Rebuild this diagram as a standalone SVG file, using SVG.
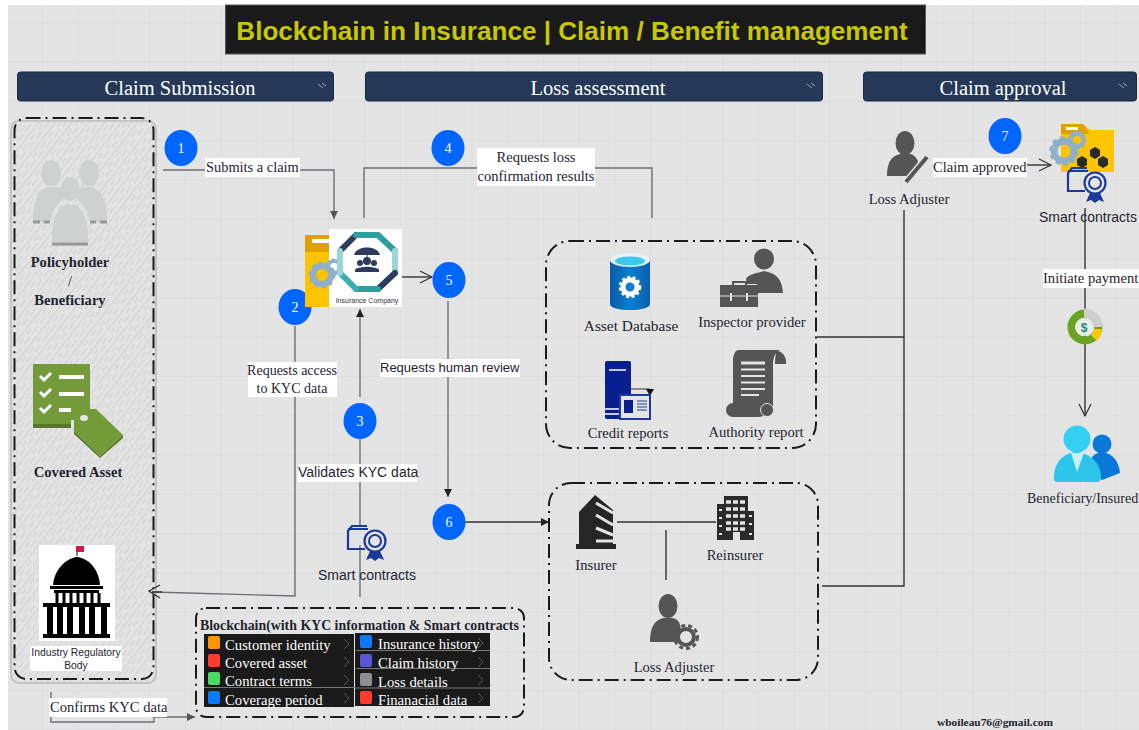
<svg xmlns="http://www.w3.org/2000/svg" width="1139" height="730" viewBox="0 0 1139 730">
<style>
.s{font-family:"Liberation Serif",serif;fill:#1f2430;font-size:14.600px}
.a{font-family:"Liberation Sans",sans-serif;fill:#1f2430;font-size:14px}
.b{font-weight:bold}
.m{text-anchor:middle}
.hd{font-family:"Liberation Serif",serif;fill:#fff;font-size:20.500px;text-anchor:middle}
.hb{fill:#253858;stroke:#1b2a44}
.num{fill:#0066ff}
.nt{font-family:"Liberation Serif",serif;fill:#fff;font-size:14px;text-anchor:middle}
.dash{fill:none;stroke:#1a1a1a;stroke-width:2;stroke-dasharray:14 5 2 5}
.l{fill:none;stroke:#6b6f76;stroke-width:1.4}
.k{fill:none;stroke:#333;stroke-width:1.4}
.w{fill:#fff}
.row{font-family:"Liberation Serif",serif;fill:#fff;font-size:14.700px}
.chev{fill:none;stroke:#555;stroke-width:1}
.blk{fill:#1a1a1a}
.g{fill:#555}
</style>
<defs>
<pattern id="grid" width="35.8" height="39.3" patternUnits="userSpaceOnUse" x="6" y="-17">
<path d="M35.8 0H0V39.3" fill="none" stroke="#d6d6d6" stroke-width="1"/>
</pattern>
<pattern id="hatch" width="13" height="13" patternUnits="userSpaceOnUse" patternTransform="rotate(-52)">
<path d="M0 2H13M0 6H7M4 10H13" stroke="#bdbdbd" stroke-width=".6"/>
</pattern>
<linearGradient id="db" x1="0" x2="1" y1="0" y2="0"><stop offset="0" stop-color="#0a5aa8"/><stop offset=".5" stop-color="#0a7fd0"/><stop offset="1" stop-color="#0a5fae"/></linearGradient>
<marker id="tri" markerWidth="10" markerHeight="10" refX="8" refY="4" orient="auto" markerUnits="userSpaceOnUse"><path d="M0 0L8 4L0 8z" fill="#555"/></marker>
<marker id="tric" markerWidth="10" markerHeight="10" refX="8" refY="4" orient="auto" markerUnits="userSpaceOnUse"><path d="M0 0L8 4L0 8z" fill="#222"/></marker>
<marker id="open" markerWidth="16" markerHeight="16" refX="13" refY="7" orient="auto" markerUnits="userSpaceOnUse"><path d="M1 1L13 7L1 13" fill="none" stroke="#333" stroke-width="1.2"/></marker>
<g id="cert">
<path d="M19 0H4L0 5V23H17" fill="none" stroke="#1a3a9a" stroke-width="2.200"/>
<path d="M0 3H20" fill="none" stroke="#1a3a9a" stroke-width="2"/>
<circle cx="27" cy="15" r="10.500" fill="#e4e4e4" stroke="#1a3a9a" stroke-width="2.200"/>
<circle cx="27" cy="15" r="6" fill="none" stroke="#1a3a9a" stroke-width="2"/>
<path d="M22 25L18 34L23 32L27 35L31 32L36 34L32 25z" fill="#1a3a9a"/>
</g>
<g id="gear"><circle r="9" fill="#e4e4e4" fill-opacity=".0" stroke="#8fb0c8" stroke-width="6"/><circle r="12" fill="none" stroke="#8fb0c8" stroke-width="3" stroke-dasharray="4 3.5"/></g>
</defs>

<rect width="1139" height="730" fill="#fff"/>
<rect x="8" y="5" width="1131" height="725" fill="#e4e4e4"/>
<rect x="8" y="5" width="1131" height="725" fill="url(#grid)"/>

<g id="title">
<rect x="225.500" y="5" width="700" height="49" fill="#1a1a1a" stroke="#555"/>
<text x="572" y="40" font-family="Liberation Sans,sans-serif" font-weight="bold" font-size="26.100" fill="#c8c800" text-anchor="middle">Blockchain in Insurance | Claim / Benefit management</text>
</g>

<g id="lane-claim-submission">
<rect class="hb" x="17.500" y="72" width="316" height="29" rx="3"/>
<text class="hd" x="180" y="95">Claim Submission</text>
<path d="M318 84l5 4M322 83l4 3" stroke="#aab" fill="none"/>
</g>
<g id="lane-loss-assessment">
<rect class="hb" x="365.500" y="72" width="457" height="29" rx="3"/>
<text class="hd" x="598" y="95">Loss assessment</text>
<path d="M807 84l5 4M811 83l4 3" stroke="#aab" fill="none"/>
</g>
<g id="lane-claim-approval">
<rect class="hb" x="863.500" y="72" width="273" height="29" rx="3"/>
<text class="hd" x="1003" y="95">Claim approval</text>
<path d="M1119 84l5 4M1123 83l4 3" stroke="#aab" fill="none"/>
</g>

<g id="panel-left">
<rect x="11" y="121" width="145" height="562" rx="8" fill="#e4e4e4" stroke="#c4c4c4" stroke-width="2"/>
<rect x="11" y="121" width="145" height="562" rx="8" fill="url(#hatch)"/>
<rect x="14.500" y="118" width="139" height="561" rx="12" class="dash"/>
</g>

<g id="connectors">
<path class="l" d="M163 170H334V219" marker-end="url(#tri)"/>
<path class="l" d="M364 218V168H652V218"/>
<path class="k" d="M402 277H432" marker-end="url(#open)"/>
<path class="l" d="M295 326V596L152 592" />
<path class="k" d="M162 592L152 592M160 585L149 591L160 598" />
<path class="l" d="M360 397V309" marker-end="url(#tric)"/>
<path class="l" d="M360 437V525"/>
<path class="l" d="M360 545V597"/>
<path class="l" d="M448 301V497" marker-end="url(#tric)"/>
<path class="k" d="M465 522H549" marker-end="url(#tric)"/>
<path class="l" d="M51 692V722H154V717M154 717H195" marker-end="url(#tri)"/>
<path class="k" d="M617 522H716M666 530V580"/>
<path class="k" d="M817 337H904M904 210V586H822"/>
<path class="k" d="M1027 165H1051" marker-end="url(#open)"/>
<path class="k" d="M1085 208V416" marker-end="url(#open)"/>
</g>

<g id="step-1"><ellipse class="num" cx="181" cy="148" rx="16.500" ry="18"/><text class="nt" x="181" y="153">1</text></g>
<g id="step-2"><ellipse class="num" cx="295" cy="307" rx="16.500" ry="18"/><text class="nt" x="295" y="312">2</text></g>
<g id="step-3"><ellipse class="num" cx="360" cy="421" rx="16.500" ry="18"/><text class="nt" x="360" y="426">3</text></g>
<g id="step-4"><ellipse class="num" cx="448" cy="148" rx="16.500" ry="18"/><text class="nt" x="448" y="153">4</text></g>
<g id="step-5"><ellipse class="num" cx="449" cy="280" rx="16.500" ry="18"/><text class="nt" x="449" y="285">5</text></g>
<g id="step-6"><ellipse class="num" cx="449" cy="522" rx="16.500" ry="18"/><text class="nt" x="449" y="527">6</text></g>
<g id="step-7"><ellipse class="num" cx="1005" cy="136" rx="16.500" ry="18"/><text class="nt" x="1005" y="141">7</text></g>

<g id="label-submits"><rect class="w" x="205" y="158" width="95" height="19"/><text class="s" style="font-size:14.400px" x="206" y="172">Submits a claim</text></g>
<g id="label-requests-loss"><rect class="w" x="477" y="148" width="118" height="38"/><text class="s m" x="536" y="162">Requests loss</text><text class="s m" x="536" y="181">confirmation results</text></g>
<g id="label-kyc-access"><rect class="w" x="248" y="362" width="89" height="35"/><text class="s m" style="font-size:14px" x="292" y="375">Requests access</text><text class="s m" style="font-size:14px" x="292" y="393">to KYC data</text></g>
<g id="label-human"><rect class="w" x="380" y="359" width="140" height="18"/><text class="a" style="font-size:13px" x="380" y="372">Requests human review</text></g>
<g id="label-validates"><rect class="w" x="298" y="464" width="119" height="18"/><text class="a" x="298" y="477">Validates KYC data</text></g>
<g id="label-confirms"><rect class="w" x="49" y="698" width="118" height="19"/><text class="s" x="50" y="712">Confirms KYC data</text></g>

<g id="policyholder">
<g fill="#cfd0d0">
<ellipse cx="51" cy="173" rx="10" ry="13"/><ellipse cx="89" cy="173" rx="10" ry="13"/>
<path d="M33 222C33 200 38 190 48 187H58C62 190 64 194 65 198C56 203 52 210 50 222z"/>
<path d="M107 222C107 200 102 190 92 187H82C78 190 76 194 75 198C84 203 88 210 90 222z"/>
<ellipse cx="70" cy="189" rx="9.500" ry="12"/>
<path d="M52 246C51 222 56 208 66 205H74C84 208 89 222 88 246z"/>
</g>
<path d="M33 222H40M44 222H50M90 222H96M100 222H107M52 244H88" stroke="#999" stroke-width="3" fill="none"/>
<text class="s b m" x="70" y="267">Policyholder</text>
<text class="s m" x="70" y="286" fill="#777">/</text>
<text class="s b m" x="70" y="305">Beneficiary</text>
</g>

<g id="covered-asset">
<path d="M33 364H90V420L71 420V427H33z" fill="#739b3a"/>
<path d="M33 424H71V428H33z" fill="#58792a"/>
<path d="M74 409H96L123 435L100 456L74 431z" fill="#739b3a"/>
<path d="M74 431L100 456L123 435V438L100 458L74 434z" fill="#58792a"/>
<ellipse cx="84" cy="418" rx="4" ry="3" fill="#e4e4e4"/>
<path d="M40 376l4 4l7-7M40 392l4 4l7-7M40 408l4 4l7-7" stroke="#fff" stroke-width="3" fill="none"/>
<path d="M59 377H84M59 394H84M59 410H71" stroke="#fff" stroke-width="4"/>
<text class="s b m" x="78" y="477">Covered Asset</text>
</g>

<g id="regulator">
<rect x="39" y="545" width="76" height="96" fill="#fff"/>
<rect x="76" y="546" width="8" height="6" fill="#d0184e"/>
<path d="M77 552V556" stroke="#000" stroke-width="1"/>
<path d="M53 585C54 570 66 558 77 557C89 558 99 570 100 585z" fill="#000"/>
<rect x="50" y="586" width="53" height="3" fill="#000"/>
<rect x="54" y="590" width="45" height="3" fill="#000"/>
<rect x="43" y="603" width="67" height="4" fill="#000"/>
<rect x="43" y="634" width="67" height="4" fill="#000"/>
<path d="M57 593V603M64 593V603M71 593V603M78 593V603M85 593V603M92 593V603M99 593V603" stroke="#000" stroke-width="3"/>
<path d="M50 607V634M60 607V634M70 607V634M82 607V634M92 607V634M104 607V634" stroke="#000" stroke-width="6"/>
<rect x="30" y="646" width="92" height="25" fill="#fff"/>
<text class="a m" style="font-size:10.300px;font-weight:500" x="76" y="656">Industry Regulatory</text>
<text class="a m" style="font-size:10.300px" x="76" y="669">Body</text>
</g>

<g id="insurance-company">
<path d="M305 235H330V307H305z" fill="#fdc400"/>
<path d="M305 235H330V252H305z" fill="#e0a000"/>
<rect x="312" y="239" width="18" height="4" fill="#fff"/>
<rect x="329" y="229" width="73" height="78" fill="#fff"/>
<use href="#gear" transform="translate(322 275)"/>
<use href="#gear" transform="translate(334 267) scale(.65)"/>
<g fill="none" stroke-width="6" stroke-linecap="round">
<path d="M356 235L340 251" stroke="#2d3c5e"/>
<path d="M356 235H378L395 251" stroke="#2f9e9e"/>
<path d="M395 251V273" stroke="#9ad6d6"/>
<path d="M395 273L378 289" stroke="#2d3c5e"/>
<path d="M378 289H356" stroke="#2f9e9e"/>
<path d="M356 289L340 273" stroke="#38aeb0"/>
<path d="M340 273V251" stroke="#9ad6d6"/>
</g>
<path d="M354 255C356 245 378 245 380 255z" fill="#2d3c5e"/>
<path d="M367 255V258" stroke="#2d3c5e"/>
<circle cx="367" cy="261" r="4" fill="#2d3c5e"/>
<circle cx="360" cy="263" r="3" fill="#2d3c5e"/><circle cx="374" cy="263" r="3" fill="#2d3c5e"/>
<path d="M359 272C359 265 375 265 375 272z" fill="#2d3c5e"/>
<path d="M355 270C355 266 379 266 379 270V272H355z" fill="#2d3c5e"/>
<text font-family="Liberation Sans,sans-serif" font-size="7" fill="#333" text-anchor="middle" x="367" y="303">Insurance Company</text>
</g>

<g id="smart-contracts-center">
<use href="#cert" transform="translate(348 526)"/>
<text class="a m" x="367" y="580">Smart contracts</text>
</g>

<g id="blockchain">
<rect x="196" y="608" width="328" height="109" rx="10" class="dash"/>
<text class="s b" x="200" y="630" style="font-size:13.850px">Blockchain(with KYC information &amp; Smart contracts</text>
<rect x="204" y="634" width="150" height="73" class="blk"/>
<rect x="355" y="633" width="135" height="73" class="blk"/>
<path d="M204 687.500H355M356 650.500H490M356 668.500H490M355 688H490" stroke="#777" stroke-width="1"/>
<rect x="208" y="636" width="12" height="13" rx="2" fill="#ff9500"/>
<rect x="208" y="654" width="12" height="13" rx="2" fill="#ff3b30"/>
<rect x="208" y="672" width="12" height="13" rx="2" fill="#4cd964"/>
<rect x="208" y="691" width="12" height="13" rx="2" fill="#0a78ff"/>
<rect x="360" y="635" width="12" height="13" rx="2" fill="#0a78ff"/>
<rect x="360" y="654" width="12" height="13" rx="2" fill="#5856d6"/>
<rect x="360" y="673" width="12" height="13" rx="2" fill="#8e8e93"/>
<rect x="360" y="691" width="12" height="13" rx="2" fill="#ff3b30"/>
<text class="row" x="225" y="650">Customer identity</text>
<text class="row" x="225" y="668">Covered asset</text>
<text class="row" x="225" y="686">Contract terms</text>
<text class="row" x="225" y="705">Coverage period</text>
<text class="row" x="378" y="649">Insurance history</text>
<text class="row" x="378" y="668">Claim history</text>
<text class="row" x="378" y="687">Loss details</text>
<text class="row" x="378" y="705">Finanacial data</text>
<path class="chev" d="M344 639l5 5l-5 5M344 657l5 5l-5 5M344 675l5 5l-5 5M344 693l5 5l-5 5M478 638l5 5l-5 5M478 657l5 5l-5 5M478 675l5 5l-5 5M478 693l5 5l-5 5"/>
</g>

<g id="sources">
<rect x="546" y="241" width="270" height="207" rx="24" class="dash"/>
<g id="asset-database">
<path d="M610 260V304C610 312 650 312 650 304V260z" fill="url(#db)"/>
<ellipse cx="630" cy="260" rx="20" ry="7" fill="#e6f2f8"/>
<ellipse cx="630" cy="261" rx="15" ry="4.500" fill="#3cc8e8"/>
<circle cx="630" cy="287" r="7" fill="none" stroke="#fff" stroke-width="5"/>
<circle cx="630" cy="287" r="10" fill="none" stroke="#fff" stroke-width="2.500" stroke-dasharray="3 2.500"/>
<text class="s m" style="font-size:15.400px" x="631" y="331">Asset Database</text>
</g>
<g id="inspector-provider">
<ellipse cx="764" cy="259" rx="10" ry="10.500" class="g"/>
<path d="M746 279C748 274 758 273 764 271C772 273 782 275 783 293H757V284H747z" class="g"/>
<rect x="720" y="285" width="38" height="22" class="g"/>
<rect x="733" y="282" width="13" height="5" fill="none" stroke="#555" stroke-width="2"/>
<path d="M720 296H758" stroke="#e4e4e4"/>
<path d="M731 293V301M747 293V301" stroke="#e4e4e4" stroke-width="2"/>
<text class="s m" x="752" y="327">Inspector provider</text>
</g>
<g id="credit-reports">
<rect x="605" y="361" width="26" height="58" rx="2" fill="#0a1f8f"/>
<path d="M609 370H626M605 409H620M605 414H620" stroke="#fff" stroke-width="1.500"/>
<path d="M631 389H650" stroke="#333"/>
<path d="M646 389H654L650 396z" fill="#111"/>
<rect x="620" y="395" width="30" height="24" fill="#e4e4e4" stroke="#1c3a9e" stroke-width="2"/>
<rect x="624" y="400" width="9" height="13" fill="#0a1f8f"/>
<path d="M637 401H647M637 404H647M637 407H647M637 410H647" stroke="#1c3a9e"/>
<text class="s m" x="628" y="438">Credit reports</text>
</g>
<g id="authority-report">
<path d="M739 350H780C775 352 773 358 773 365V406H733V360C733 355 735 350 739 350z" class="g"/>
<path d="M776 351C782 350 787 357 786 364H775C775 358 776 354 776 351z" class="g"/>
<rect x="726" y="403" width="40" height="14" rx="7" class="g"/>
<circle cx="767" cy="410" r="6.500" class="g" stroke="#e4e4e4"/>
<path d="M741 363H765" stroke="#e4e4e4" stroke-width="3"/>
<path d="M741 369.500H765M741 376H765M741 382.500H765M741 389H765M741 395H759" stroke="#e4e4e4" stroke-width="2"/>
<text class="s m" x="756" y="437">Authority report</text>
</g>
</g>

<g id="parties">
<rect x="549" y="483" width="269" height="197" rx="22" class="dash"/>
<g id="insurer">
<path d="M579 512L595 495L613 510V545H579z" fill="#262626"/>
<path d="M596 503L613 513M596 515L613 525M596 528L613 535M596 541H613" stroke="#e4e4e4" stroke-width="3"/>
<rect x="576" y="544" width="40" height="5" fill="#262626"/>
<text class="s m" x="596" y="570">Insurer</text>
</g>
<g id="reinsurer">
<rect x="724" y="496" width="24" height="44" fill="#2a2a2a"/>
<rect x="717" y="504" width="7" height="36" fill="#2a2a2a"/>
<rect x="748" y="511" width="6" height="29" fill="#2a2a2a"/>
<path d="M726 502H747M726 509H747M726 516H747M726 523H747M726 529H747" stroke="#e4e4e4" stroke-width="3.500" stroke-dasharray="5 2"/>
<rect x="733" y="532" width="7" height="8" fill="#e4e4e4"/>
<path d="M719 510H722M719 518H722M719 526H722M719 534H722M749 516H752M749 524H752M749 534H752" stroke="#e4e4e4" stroke-width="2"/>
<text class="s m" x="735" y="560">Reinsurer</text>
</g>
<g id="loss-adjuster-bottom">
<ellipse cx="668" cy="606" rx="9.500" ry="12" class="g"/>
<path d="M650 642C650 625 656 620 663 618H673C680 620 682 625 680 642z" class="g"/>
<circle cx="686" cy="637" r="8" fill="#e4e4e4" stroke="#555" stroke-width="4"/>
<circle cx="686" cy="637" r="11.500" fill="none" stroke="#555" stroke-width="3" stroke-dasharray="4 3"/>
<text class="s m" x="674" y="672">Loss Adjuster</text>
</g>
</g>

<g id="loss-adjuster-top">
<ellipse cx="905" cy="143" rx="9.500" ry="12" class="g"/>
<path d="M887 176C887 160 893 156 900 154H911C916 156 918 160 919 166L910 176z" class="g"/>
<path d="M906 182L927 157" stroke="#e4e4e4" stroke-width="7"/>
<path d="M906 182L927 157" stroke="#555" stroke-width="4"/>
<text class="s m" x="909" y="204">Loss Adjuster</text>
</g>
<g id="label-approved"><rect class="w" x="933" y="158" width="94" height="19"/><text class="s" x="933" y="172">Claim approved</text></g>

<g id="smart-contracts-right">
<path d="M1061 124H1083L1090 130H1114V172H1061z" fill="#fdc400"/>
<path d="M1061 124H1083L1090 134H1061z" fill="#e0a000"/>
<rect x="1066" y="127" width="12" height="3" fill="#fff"/>
<use href="#gear" transform="translate(1064 151) scale(1.100)"/>
<use href="#gear" transform="translate(1077 140) scale(.7)"/>
<path d="M1087 159l-5-3-5 3v6l5 3 5-3zM1100 150l-5-3-5 3v6l5 3 5-3zM1108 159l-5-3-5 3v6l5 3 5-3z" fill="#2a2a2a"/>
<use href="#cert" transform="translate(1068 168)"/>
<text class="a m" x="1088" y="222">Smart contracts</text>
</g>
<g id="label-payment"><rect class="w" x="1043" y="269" width="96" height="19"/><text class="s" x="1043" y="283">Initiate payment</text></g>

<g id="payment-icon">
<circle cx="1085" cy="327" r="13.500" fill="none" stroke="#6aa321" stroke-width="8"/>
<path d="M1084 313A14 14 0 0 1 1098 327" fill="none" stroke="#cfcfcf" stroke-width="9"/>
<path d="M1098 329A14 14 0 0 1 1094 338" fill="none" stroke="#ffc800" stroke-width="8"/>
<circle cx="1084" cy="327" r="9" fill="#e8ecea"/>
<text font-family="Liberation Sans,sans-serif" font-weight="bold" font-size="12" fill="#2a8a7a" text-anchor="middle" x="1084" y="331.500">$</text>
</g>

<g id="beneficiary-insured">
<path d="M1102 480L1120 473C1119 462 1113 453 1102 452C1091 453 1088 462 1090 473z" fill="#0a78d8"/>
<circle cx="1102" cy="444" r="9.500" fill="#0a78d8"/>
<circle cx="1077" cy="439" r="13.500" fill="#34d0f4"/>
<path d="M1054 477C1054 462 1064 453 1076 452C1089 453 1101 462 1101 477C1101 481 1099 482 1097 482H1057C1055 482 1054 481 1054 477z" fill="#2cc4e8"/>
<path d="M1071 453H1084L1077 472z" fill="#c8f0fa"/>
<text class="s" style="font-size:14px" x="1027" y="503">Beneficiary/Insured</text>
</g>

<g id="footer"><text class="s b" x="937" y="726" style="font-size:11.400px">wboileau76@gmail.com</text></g>
</svg>
